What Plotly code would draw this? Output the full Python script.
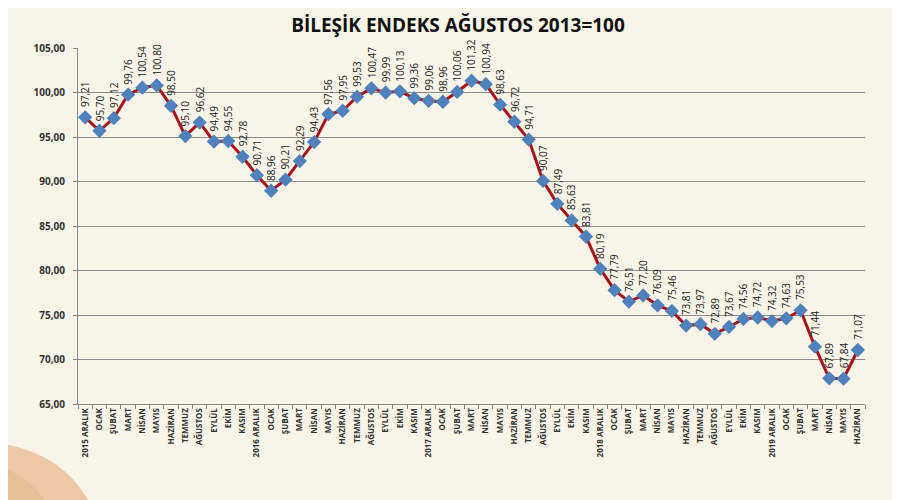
import plotly.graph_objects as go

months = ["ARALIK", "OCAK", "ŞUBAT", "MART", "NİSAN", "MAYIS", "HAZİRAN",
          "TEMMUZ", "AĞUSTOS", "EYLÜL", "EKİM", "KASIM"]
tick_labels = []
year = 2015
for i in range(55):
    m = months[i % 12]
    if m == "ARALIK":
        tick_labels.append(f"{year} ARALIK")
        year += 1
    else:
        tick_labels.append(m)

values = [97.21, 95.70, 97.12, 99.76, 100.54, 100.80, 98.50, 95.10, 96.62, 94.49,
          94.55, 92.78, 90.71, 88.96, 90.21, 92.29, 94.43, 97.56, 97.95, 99.53,
          100.47, 99.99, 100.13, 99.36, 99.06, 98.96, 100.06, 101.32, 100.94, 98.63,
          96.72, 94.71, 90.07, 87.49, 85.63, 83.81, 80.19, 77.79, 76.51, 77.20,
          76.09, 75.46, 73.81, 73.97, 72.89, 73.67, 74.56, 74.72, 74.32, 74.63,
          75.53, 71.44, 67.89, 67.84, 71.07]

x = list(range(len(values)))
fmt = lambda v: f"{v:.2f}".replace(".", ",")

fig = go.Figure()
fig.add_trace(go.Scatter(
    x=x, y=values, mode="lines+markers",
    line=dict(color="#a8121a", width=3),
    marker=dict(symbol="diamond", size=11, color="#4f81bd",
                line=dict(width=0)),
    hoverinfo="skip", showlegend=False))

for xi, v in zip(x, values):
    fig.add_annotation(x=xi, y=v, text=fmt(v), textangle=-90,
                       showarrow=False, xanchor="center", yanchor="bottom",
                       yshift=8, font=dict(family="Open Sans", size=10, color="#222"))

# decorative peach swoosh in the bottom-left corner
fig.add_shape(type="path", xref="paper", yref="paper",
              path="M -0.11 -0.107 Q -0.023 -0.129 0.0127 -0.27 L 0.02 -0.33 L -0.11 -0.33 Z",
              fillcolor="#eec8a5", line=dict(width=0), layer="below")
fig.add_shape(type="path", xref="paper", yref="paper",
              path="M -0.11 -0.17 Q -0.05 -0.20 -0.03 -0.33 L -0.11 -0.33 Z",
              fillcolor="#e9bd95", line=dict(width=0), layer="below")

fig.update_layout(
    width=900, height=500,
    margin=dict(l=70, r=43, t=40, b=104),
    paper_bgcolor="#f8f4e7", plot_bgcolor="rgba(0,0,0,0)",
    separators=",.",
    title=dict(text="<b>BİLEŞİK ENDEKS AĞUSTOS 2013=100</b>", x=0.5, xanchor="center",
               y=0.966, yanchor="middle",
               font=dict(family="Open Sans", size=19, color="#111")),
    xaxis=dict(range=[-0.5, 54.5], tickvals=x, ticktext=tick_labels,
               tickangle=-90, ticks="", showgrid=False, zeroline=False,
               tickfont=dict(family="Open Sans", size=8, color="#333", weight="bold"),
               showline=True, linecolor="#888", linewidth=1,
               minor=dict(tickvals=[i - 0.5 for i in range(56)], ticks="outside",
                          ticklen=4, tickcolor="#888", showgrid=False)),
    yaxis=dict(range=[65, 105], dtick=5, tickformat=".2f", showgrid=True,
               gridcolor="#8c8c8c", gridwidth=1, zeroline=False,
               showline=True, linecolor="#888", ticks="outside", ticklen=4,
               tickcolor="#888", ticklabelstandoff=6,
               tickfont=dict(family="Open Sans", size=10, color="#333", weight="bold")),
)

fig.write_html("out.html")
